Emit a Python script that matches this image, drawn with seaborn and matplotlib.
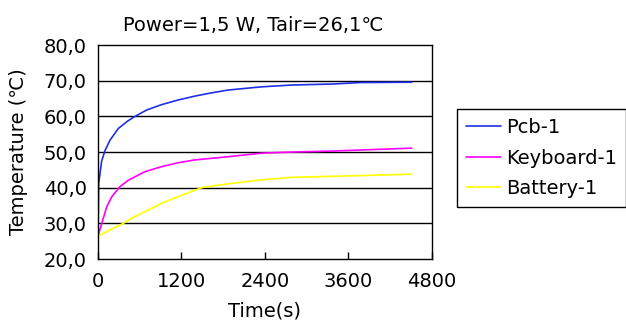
import pandas as pd
import seaborn as sns
import matplotlib
matplotlib.use('Agg')
import matplotlib.pyplot as plt

# readings taken off the chart (time in s, temperature in degC)
pcb_t = [0, 5, 10, 53, 101, 172, 292, 420, 531, 700, 914, 1150, 1393, 1630, 1872,
         2351, 2782, 3387, 3770, 4510]
pcb_v = [26.5, 32.6, 41.1, 47.5, 50.4, 53.3, 56.6, 58.6, 60.0, 61.8, 63.3, 64.6, 65.7,
         66.6, 67.4, 68.3, 68.8, 69.1, 69.5, 69.6]

kb_t = [0, 5, 53, 125, 196, 316, 436, 675, 914, 1150, 1393, 1872, 2351, 2782, 3387, 4510]
kb_v = [26.5, 26.8, 29.9, 34.6, 37.4, 40.3, 42.1, 44.5, 45.9, 47.0, 47.8, 48.7, 49.7,
        50.0, 50.3, 51.1]

bat_t = [0, 196, 364, 520, 675, 914, 1154, 1489, 1872, 2351, 2782, 3387, 4510]
bat_v = [26.4, 28.4, 30.0, 31.8, 33.3, 35.6, 37.5, 40.0, 41.1, 42.2, 42.9, 43.2, 43.8]

names = ['Pcb-1', 'Keyboard-1', 'Battery-1']
colours = ['#1f2fe6', '#ff00ff', '#ffff00']

yticks = [20, 30, 40, 50, 60, 70, 80]
ylabels = ['20,0', '30,0', '40,0', '50,0', '60,0', '70,0', '80,0']
xticks = [0, 1200, 2400, 3600, 4800]


def long_df():
    frames = []
    for name, t, v in zip(names, [pcb_t, kb_t, bat_t], [pcb_v, kb_v, bat_v]):
        frames.append(pd.DataFrame({'time': t, 'temp': v, 'sensor': name}))
    return pd.concat(frames, ignore_index=True)


sns.set_style('white')
plt.rcParams['font.family'] = ['DejaVu Sans']
plt.rcParams['text.color'] = 'black'
plt.rcParams['axes.labelcolor'] = 'black'
plt.rcParams['xtick.color'] = 'black'
plt.rcParams['ytick.color'] = 'black'

df = long_df()

fig = plt.figure(figsize=(6.26, 3.2), dpi=100)
ax = fig.add_axes([0.1565, 0.1906, 0.5335, 0.6684])

sns.lineplot(data=df, x='time', y='temp', hue='sensor', hue_order=names,
             palette=colours, sort=False, estimator=None, linewidth=1.2, ax=ax)

ax.set_xlim(0, 4800)
ax.set_ylim(20, 80)
ax.set_xticks(xticks)
ax.set_yticks(yticks)
ax.set_yticklabels(ylabels)
for y in yticks[1:-1]:
    ax.axhline(y, color='black', lw=1.0, zorder=0)

ax.tick_params(axis='x', direction='in', length=5, width=1, color='black',
               labelsize=14, pad=9, top=False, bottom=True)
ax.tick_params(axis='y', length=0, labelsize=14, pad=8)
for s in ax.spines.values():
    s.set_color('black')
    s.set_linewidth(1.0)

ax.set_title('Power=1,5 W, Tair=26,1\u2103', fontsize=14, pad=10, x=0.465)
ax.set_xlabel('Time(s)', fontsize=14, labelpad=8)
ax.set_ylabel('Temperature (\u2103)', fontsize=14, labelpad=11)

handles, labels = ax.get_legend_handles_labels()
ax.get_legend().remove()
leg = fig.legend(handles, labels, loc='upper left', bbox_to_anchor=(0.730, 0.659),
                 fontsize=14, frameon=True, fancybox=False, framealpha=1,
                 edgecolor='black', handlelength=1.8, handletextpad=0.3,
                 labelspacing=0.6, borderpad=0.45, borderaxespad=0)
leg.get_frame().set_linewidth(1.0)

fig.savefig('out.png', dpi=100)
